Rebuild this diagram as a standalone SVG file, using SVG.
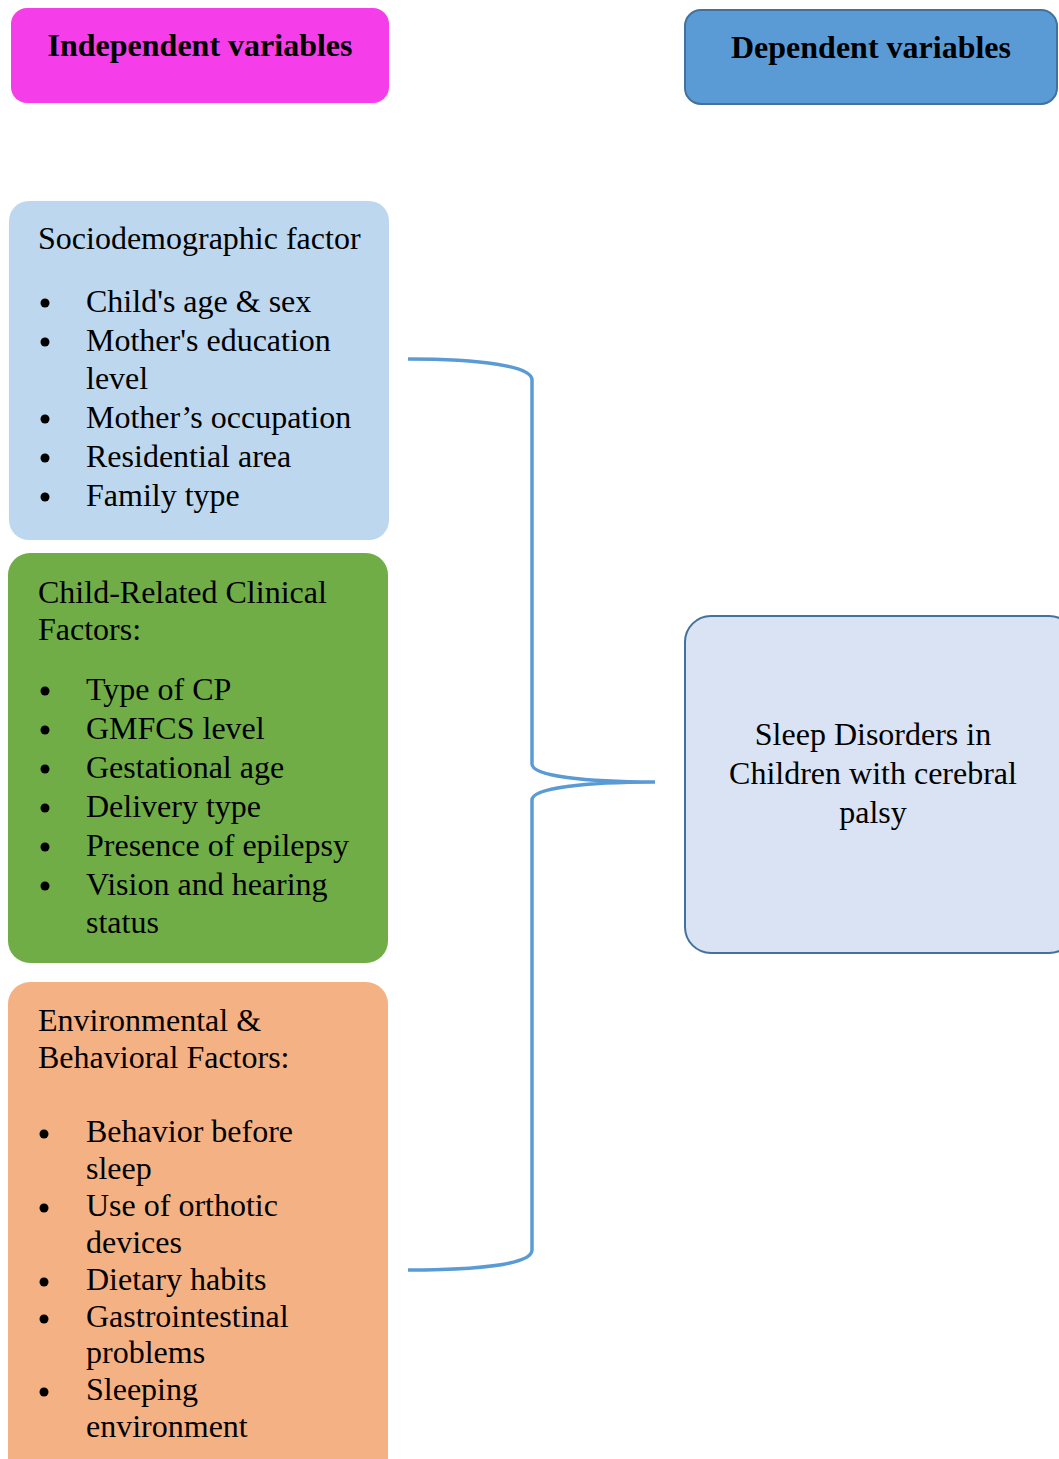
<svg xmlns="http://www.w3.org/2000/svg" width="1059" height="1459" viewBox="0 0 1059 1459">
<style>
text{font-family:"Liberation Serif","Times New Roman",serif;fill:#000}
.h{font-weight:bold;font-size:32px;text-anchor:middle}
.t{font-size:32px}
.c{font-size:32px;text-anchor:middle}
.conn{fill:none;stroke:#5B9BD5;stroke-width:3.5}
</style>
<rect width="1059" height="1459" fill="#fff"/>
<g id="independent">
<rect x="11" y="8" width="378" height="95" rx="16" fill="#F53EE9"/>
<text class="h" x="200" y="56">Independent variables</text>
</g>
<g id="dependent">
<rect x="685" y="10" width="372" height="94" rx="16" fill="#5B9BD5" stroke="#41719C" stroke-width="2"/>
<text class="h" x="871" y="58">Dependent variables</text>
</g>
<g id="sociodemographic">
<rect x="9" y="201" width="380" height="339" rx="20" fill="#BDD7EE"/>
<text class="t" x="38" y="249">Sociodemographic factor</text>
<text class="t" x="86" y="312">Child's age &amp; sex</text>
<text class="t" x="86" y="351">Mother's education</text>
<text class="t" x="86" y="389">level</text>
<text class="t" x="86" y="428">Mother’s occupation</text>
<text class="t" x="86" y="467">Residential area</text>
<text class="t" x="86" y="506">Family type</text>
<g fill="#000"><circle cx="45" cy="303" r="4.5"/><circle cx="45" cy="342" r="4.5"/><circle cx="45" cy="419" r="4.5"/><circle cx="45" cy="458" r="4.5"/><circle cx="45" cy="497" r="4.5"/></g>
</g>
<g id="clinical">
<rect x="8" y="553" width="380" height="410" rx="22" fill="#70AD47"/>
<text class="t" x="38" y="603">Child-Related Clinical</text>
<text class="t" x="38" y="640">Factors:</text>
<text class="t" x="86" y="700">Type of CP</text>
<text class="t" x="86" y="739">GMFCS level</text>
<text class="t" x="86" y="778">Gestational age</text>
<text class="t" x="86" y="817">Delivery type</text>
<text class="t" x="86" y="856">Presence of epilepsy</text>
<text class="t" x="86" y="895">Vision and hearing</text>
<text class="t" x="86" y="933">status</text>
<g fill="#000"><circle cx="45" cy="691" r="4.5"/><circle cx="45" cy="730" r="4.5"/><circle cx="45" cy="769" r="4.5"/><circle cx="45" cy="808" r="4.5"/><circle cx="45" cy="847" r="4.5"/><circle cx="45" cy="886" r="4.5"/></g>
</g>
<g id="environmental">
<rect x="8" y="982" width="380" height="500" rx="22" fill="#F4B183"/>
<text class="t" x="38" y="1031">Environmental &amp;</text>
<text class="t" x="38" y="1068">Behavioral Factors:</text>
<text class="t" x="86" y="1142">Behavior before</text>
<text class="t" x="86" y="1179">sleep</text>
<text class="t" x="86" y="1216">Use of orthotic</text>
<text class="t" x="86" y="1253">devices</text>
<text class="t" x="86" y="1290">Dietary habits</text>
<text class="t" x="86" y="1327">Gastrointestinal</text>
<text class="t" x="86" y="1363">problems</text>
<text class="t" x="86" y="1400">Sleeping</text>
<text class="t" x="86" y="1437">environment</text>
<g fill="#000"><circle cx="44" cy="1134" r="4.5"/><circle cx="44" cy="1208" r="4.5"/><circle cx="44" cy="1282" r="4.5"/><circle cx="44" cy="1319" r="4.5"/><circle cx="44" cy="1392" r="4.5"/></g>
</g>
<g id="outcome">
<rect x="685" y="616" width="390" height="337" rx="26" fill="#DAE3F3" stroke="#41719C" stroke-width="2"/>
<text class="c" x="873" y="745">Sleep Disorders in</text>
<text class="c" x="873" y="784">Children with cerebral</text>
<text class="c" x="873" y="823">palsy</text>
</g>
<g id="connectors">
<path class="conn" d="M408 359 C480 359 532 366 532 380 L532 764 C532 776 585 782 655 782 C585 782 532 788 532 800 L532 1250 C532 1264 480 1270 408 1270"/>
</g>
</svg>
